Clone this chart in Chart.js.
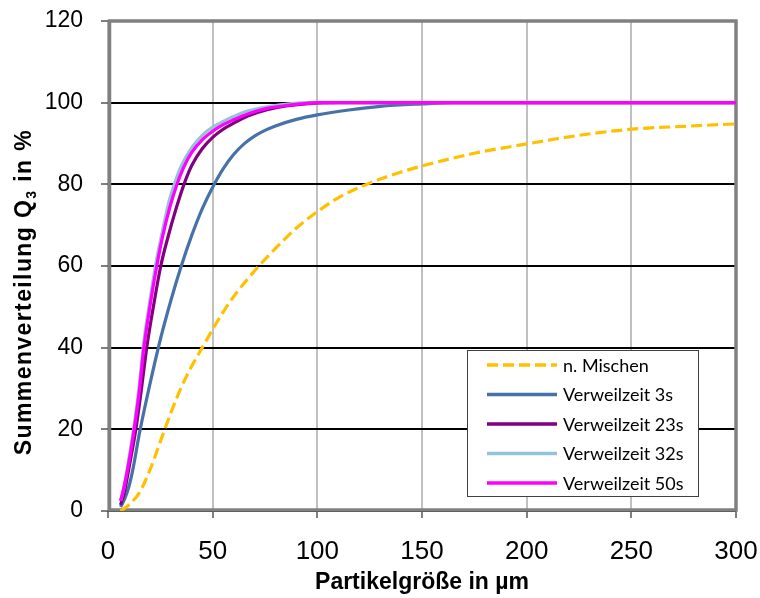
<!DOCTYPE html>
<html>
<head>
<meta charset="utf-8">
<script src="https://cdn.jsdelivr.net/npm/chart.js@4"></script>
<style>
  html, body { margin: 0; padding: 0; background: #fff; }
  #wrap { width: 760px; height: 598px; }
</style>
</head>
<body>
<div id="wrap"><canvas id="psdChart"></canvas></div>
<script>
// Data (x = particle size in µm, y = Q3 in %)
const sizeMischen = [6, 10, 15, 20, 25, 30, 35, 40, 45, 50, 55, 60, 70, 80, 90, 100, 110, 125, 140, 150, 175, 200, 225, 250, 275, 300];
const q3Mischen = [0, 1.5, 4.5, 10, 17, 24, 30.3, 35.5, 40, 44.5, 48.7, 52.5, 58.8, 64.3, 69.3, 73.3, 76.7, 80.3, 83, 84.5, 87.6, 89.9, 92, 93.5, 94.2, 94.8];

const size3s = [6, 8, 10, 12, 15, 20, 25, 30, 35, 40, 45, 50, 55, 60, 65, 70, 75, 80, 90, 100, 115, 130, 150, 165, 300];
const q33s = [1, 3, 6, 10.5, 19, 31, 42, 51.5, 60, 67.5, 74, 79.3, 83.8, 87.3, 89.9, 91.8, 93.2, 94.3, 95.9, 97, 98.2, 99.1, 99.7, 100, 100];

const size23s = [6, 8, 10, 13.3, 16, 18.5, 22, 25.2, 28.5, 32.5, 36.3, 40, 45, 50, 55, 60, 67, 76, 85, 100, 110, 300];
const q323s = [1.5, 5, 10.5, 20, 30, 40, 51, 60, 66.8, 74, 80, 84.6, 88.7, 91.5, 93.5, 95, 96.8, 98.3, 99.2, 99.9, 100, 100];

const size32s = [6, 7.5, 10, 12.5, 15, 17, 20, 23, 26, 29, 32, 35, 40, 45, 50, 55, 60, 67, 76, 85, 95, 300];
const q332s = [2.5, 5.5, 13, 21, 31, 41, 51.5, 61, 68.5, 75.5, 80.5, 84.5, 89, 92, 94, 95.4, 96.6, 98, 99, 99.6, 100, 100];

const size50s = [6, 7.5, 10, 12.5, 15, 17, 20, 23.3, 26, 29.6, 32.8, 36, 40, 45, 50, 55, 60, 67, 76, 85, 92, 100, 300];
const q350s = [2.5, 5.5, 12, 20, 29.6, 39.4, 50, 60, 67, 74.5, 79.8, 84, 87.8, 90.9, 93, 94.6, 95.8, 97.3, 98.6, 99.3, 99.7, 100, 100];

const seriesLabels = ['n. Mischen', 'Verweilzeit 3s', 'Verweilzeit 23s', 'Verweilzeit 32s', 'Verweilzeit 50s'];
const xTitle = 'Partikelgröße in µm';
const yTitleParts = ['Summenverteilung Q', '3', ' in %'];

const axisFont = '"Liberation Sans", Arial, sans-serif';

function toPoints(xs, ys) {
    return xs.map((x, i) => ({ x: x, y: ys[i] }));
}

// grey frame round the plot area
const framePlugin = {
    id: 'frame',
    beforeDatasetsDraw(chart) {
        const ctx = chart.ctx;
        const a = chart.chartArea;
        ctx.save();
        ctx.strokeStyle = '#808080';
        ctx.lineWidth = 3.5;
        ctx.strokeRect(a.left + 1.5, a.top, a.right - a.left - 1.5, a.bottom - a.top - 1);
        ctx.restore();
    }
};

// rotated y title with a real subscript
const yTitlePlugin = {
    id: 'yTitle',
    afterDraw(chart) {
        const ctx = chart.ctx;
        const a = chart.chartArea;
        const fonts = ['bold 23px ' + axisFont, 'bold 14px ' + axisFont, 'bold 23px ' + axisFont];
        const shifts = [0, 5, 0];
        ctx.save();
        ctx.translate(31, (a.top + a.bottom) / 2 + 26);
        ctx.rotate(-Math.PI / 2);
        ctx.fillStyle = '#000';
        ctx.textAlign = 'left';
        ctx.textBaseline = 'alphabetic';
        ctx.letterSpacing = '1.4px';
        let total = 0;
        yTitleParts.forEach((t, i) => { ctx.font = fonts[i]; total += ctx.measureText(t).width; });
        let x = -total / 2;
        yTitleParts.forEach((t, i) => {
            ctx.font = fonts[i];
            ctx.fillText(t, x, shifts[i]);
            x += ctx.measureText(t).width;
        });
        ctx.restore();
    }
};

// boxed legend inside the plot, bottom right
const legendBoxPlugin = {
    id: 'legendBox',
    afterDraw(chart) {
        const ctx = chart.ctx;
        const a = chart.chartArea;
        const boxW = 231, boxH = 146;
        const left = a.right - 38 - boxW;
        const top = a.bottom - 15 - boxH;
        ctx.save();
        ctx.fillStyle = '#fff';
        ctx.fillRect(left, top, boxW, boxH);
        ctx.strokeStyle = '#404040';
        ctx.lineWidth = 1;
        ctx.strokeRect(left + 0.5, top + 0.5, boxW, boxH);
        ctx.font = '18px Lato, "Open Sans", sans-serif';
        ctx.textBaseline = 'middle';
        ctx.textAlign = 'left';
        chart.data.datasets.forEach((ds, i) => {
            const y = top + 15 + i * 29.5;
            ctx.strokeStyle = ds.borderColor;
            ctx.lineWidth = 3.5;
            ctx.setLineDash(ds.borderDash || []);
            ctx.beginPath();
            ctx.moveTo(left + 20, y);
            ctx.lineTo(left + 90, y);
            ctx.stroke();
            ctx.setLineDash([]);
            ctx.fillStyle = '#000';
            ctx.fillText(ds.label, left + 96, y + 1);
        });
        ctx.restore();
    }
};

const ctx = document.getElementById('psdChart').getContext('2d');

new Chart(ctx, {
    type: 'line',
    data: {
        datasets: [
            { label: seriesLabels[0], data: toPoints(sizeMischen, q3Mischen), borderColor: '#ffc000', borderDash: [11, 5], order: 5 },
            { label: seriesLabels[1], data: toPoints(size3s, q33s), borderColor: '#4672a8', order: 4 },
            { label: seriesLabels[2], data: toPoints(size23s, q323s), borderColor: '#800080', order: 3 },
            { label: seriesLabels[3], data: toPoints(size32s, q332s), borderColor: '#93c5d8', order: 2 },
            { label: seriesLabels[4], data: toPoints(size50s, q350s), borderColor: '#ff00ff', order: 1 }
        ]
    },
    options: {
        responsive: true,
        maintainAspectRatio: false,
        animation: false,
        devicePixelRatio: 1,
        layout: { padding: { top: 21, right: 24, left: 0, bottom: 0 } },
        elements: {
            line: { borderWidth: 3.2, cubicInterpolationMode: 'monotone', fill: false },
            point: { radius: 0, hoverRadius: 0 }
        },
        plugins: {
            legend: { display: false },
            tooltip: { enabled: false }
        },
        scales: {
            x: {
                type: 'linear',
                min: 0,
                max: 300,
                ticks: { stepSize: 50, padding: 18, color: '#000', maxRotation: 0, font: { family: axisFont, size: 26 } },
                grid: { color: '#c0c0c0', lineWidth: 2, tickColor: '#000', tickWidth: 1, tickLength: 7 },
                border: { display: false },
                title: { display: true, text: xTitle, color: '#000', padding: { top: 0, bottom: 2 }, font: { family: axisFont, size: 23, weight: 'bold' } },
                afterFit: function(scale) {
                    scale.height = 87;
                    scale.paddingLeft = 0;
                    scale.paddingRight = 0;
                }
            },
            y: {
                min: 0,
                max: 120,
                ticks: { stepSize: 20, padding: 18, color: '#000', font: { family: axisFont, size: 23 } },
                grid: { color: '#000', lineWidth: 2, tickColor: '#000', tickWidth: 1, tickLength: 7 },
                border: { display: false },
                afterFit: function(scale) {
                    scale.width = 108;
                    scale.paddingTop = 0;
                    scale.paddingBottom = 0;
                }
            }
        }
    },
    plugins: [framePlugin, yTitlePlugin, legendBoxPlugin]
});
</script>
</body>
</html>
